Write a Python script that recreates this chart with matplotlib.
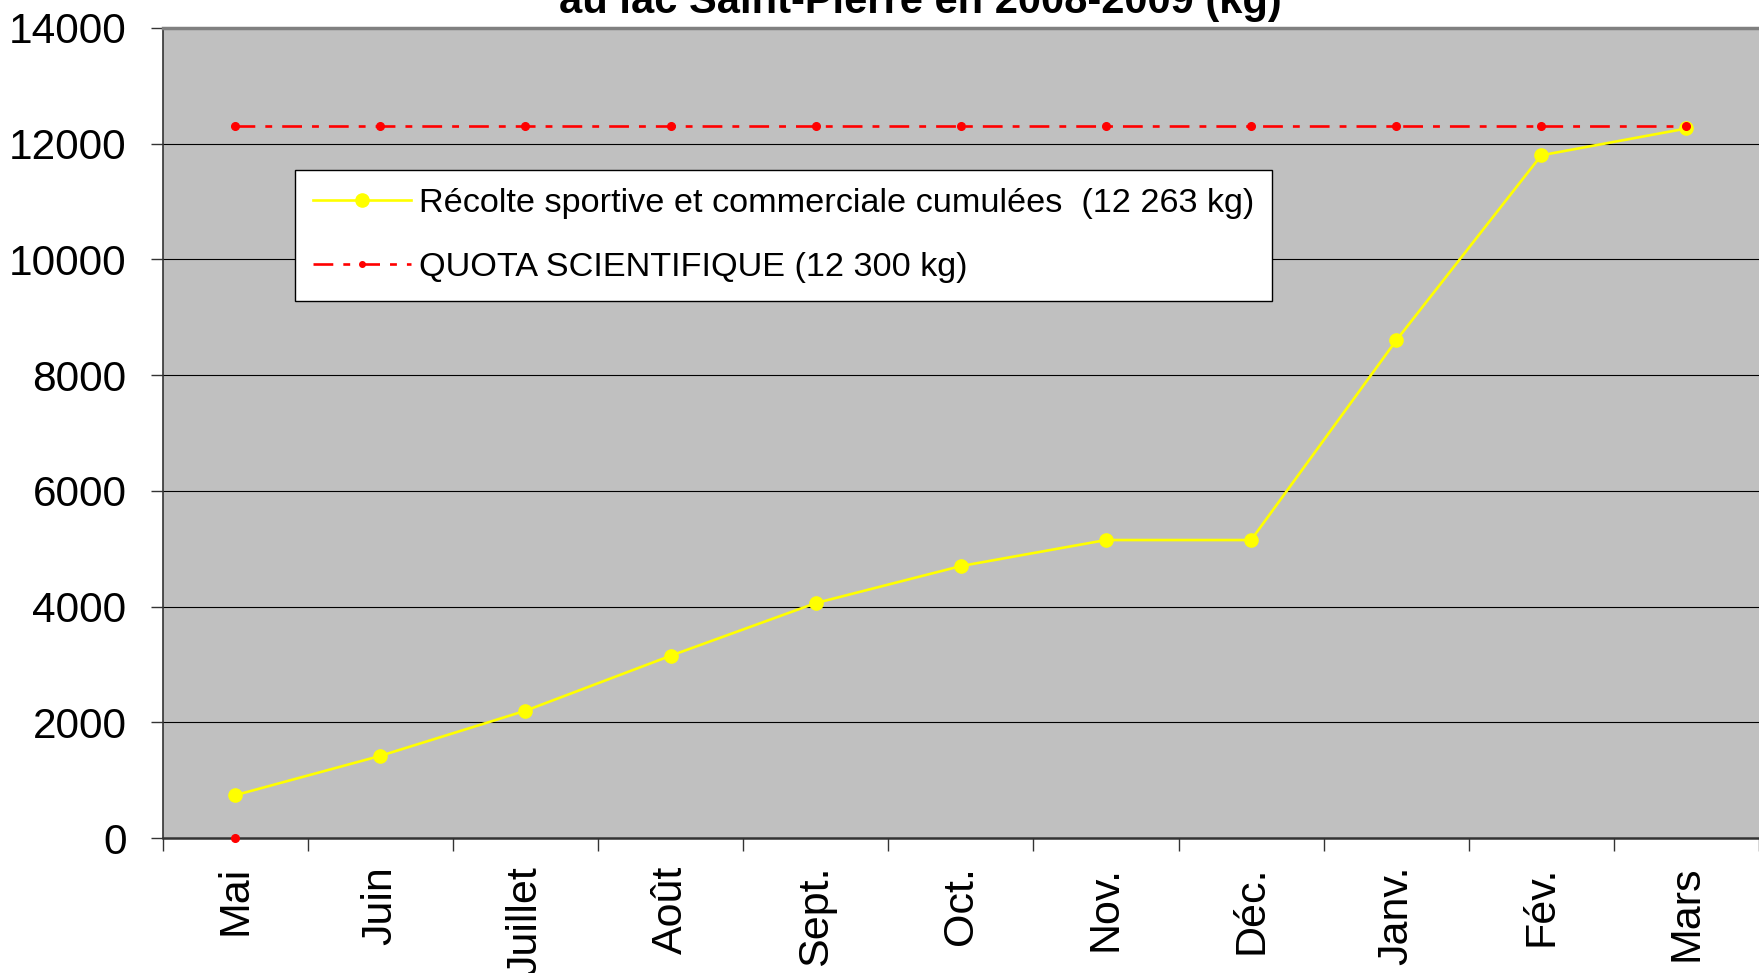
import matplotlib
matplotlib.use("Agg")
import matplotlib.pyplot as plt
from matplotlib.lines import Line2D

plt.rcParams['font.family'] = ['Liberation Sans', 'DejaVu Sans']

months = ["Mai", "Juin", "Juillet", "Août", "Sept.", "Oct.", "Nov.", "Déc.", "Janv.", "Fév.", "Mars"]
recolte = [740, 1420, 2200, 3150, 4060, 4700, 5150, 5150, 8600, 11800, 12263]
quota = [12300] * 11
quota_extra_point = 0  # stray red point at Mai
yticks = [0, 2000, 4000, 6000, 8000, 10000, 12000, 14000]
title_line = "au lac Saint-Pierre en 2008-2009 (kg)"
label_recolte = "Récolte sportive et commerciale cumulées  (12 263 kg)"
label_quota = "QUOTA SCIENTIFIQUE (12 300 kg)"

W, H = 1759, 973
fig = plt.figure(figsize=(W / 100, H / 100), dpi=100)
ax = fig.add_axes([162.7 / W, (H - 838) / H, 1 - 162.7 / W, (838 - 28) / H])
ax.set_facecolor('#C0C0C0')

x = list(range(len(months)))
ax.set_xlim(-0.5, len(months) - 0.5)
ax.set_ylim(0, 14000)

for yv in yticks[1:-1]:
    ax.axhline(yv, color='black', lw=0.8, zorder=1)

ax.plot(x, recolte, color='#FFFF00', lw=1.9, marker='o', ms=9.5, mec='#FFFF00', mfc='#FFFF00', zorder=3)
ax.plot(x, quota, color='#FF0000', lw=1.9, ls=(0, (7.5, 3.8, 2.6, 3.8)), marker='o', ms=5.5,
        mec='#FF0000', mfc='#FF0000', zorder=4)
ax.plot([x[0]], [quota_extra_point], ls='none', marker='o', ms=5.5, mec='#FF0000', mfc='#FF0000',
        zorder=5, clip_on=False)

ax.set_yticks(yticks)
ax.set_yticklabels([str(v) for v in yticks], fontsize=30.5)
ax.tick_params(axis='y', length=9, width=1, color='#333333', pad=17)

ax.set_xticks(x)
ax.set_xticklabels(months, rotation=90, fontsize=31, va='top')
ax.tick_params(axis='x', which='major', length=0, pad=20)
ax.set_xticks([i - 0.5 for i in range(len(months) + 1)], minor=True)
ax.tick_params(axis='x', which='minor', length=9, width=1, color='#333333')

ax.spines['right'].set_visible(False)
ax.spines['top'].set_color('#808080')
ax.spines['top'].set_linewidth(2.5)
ax.spines['left'].set_color('#333333')
ax.spines['left'].set_linewidth(1.2)
ax.spines['bottom'].set_color('#333333')
ax.spines['bottom'].set_linewidth(1.8)

handles = [
    Line2D([], [], color='#FFFF00', lw=1.9, marker='o', ms=9.5, mfc='#FFFF00', mec='#FFFF00'),
    Line2D([], [], color='#FF0000', lw=1.9, ls=(0, (7.5, 3.8, 2.6, 3.8)), marker='o', ms=4,
           mfc='#FF0000', mec='#FF0000'),
]
leg = ax.legend(handles, [label_recolte, label_quota], loc='upper left',
                bbox_to_anchor=(295 / W, (H - 170) / H), bbox_transform=fig.transFigure,
                fontsize=24.7, frameon=True, fancybox=False, framealpha=1,
                edgecolor='black', handlelength=2.85, handletextpad=0.23,
                labelspacing=0.95, borderpad=0.53, borderaxespad=0)
leg.get_frame().set_linewidth(1.0)

fig.text(920 / W, 1 - 13.5 / H, title_line, ha='center', va='baseline',
         fontsize=30, fontweight='bold')

fig.savefig('out.png', dpi=100, facecolor='white')
